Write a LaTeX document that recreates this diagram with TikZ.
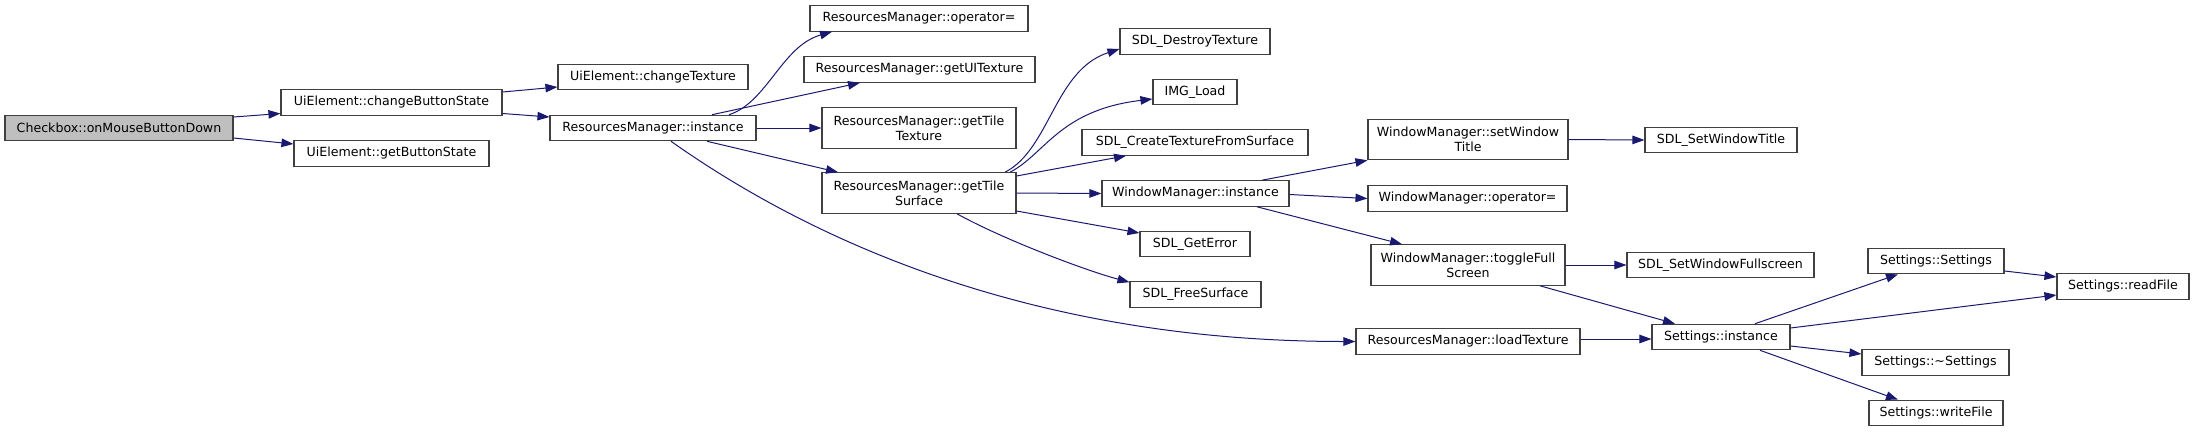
\documentclass[tikz,border=0pt]{standalone}
\usepackage{fontspec}
\setmainfont{DejaVu Sans}
\usetikzlibrary{arrows.meta}
\definecolor{edgecol}{HTML}{191970}
\definecolor{rootfill}{HTML}{BFBFBF}
\definecolor{boxline}{HTML}{404040}
\begin{document}
\begin{tikzpicture}[x=1pt,y=-1pt,
  box/.style={draw=boxline, line width=1.1pt, fill=white, inner sep=0pt, align=center,
    font=\fontsize{12.6}{14.7}\selectfont, minimum height=25.5pt},
  tall/.style={minimum height=40.5pt},
  rootbox/.style={fill=rootfill},
  call/.style={draw=edgecol, line width=1pt, -{Triangle[length=12pt,width=8.5pt]}, fill=none}
]
\useasboundingbox (0,0) rectangle (2195,432);
% rank 0
\node[box,rootbox,minimum width=228pt] (cb) at (119,128) {Checkbox::onMouseButtonDown};
% rank 1
\node[box,minimum width=221pt] (cbs) at (391.5,102.5) {UiElement::changeButtonState};
\node[box,minimum width=195pt] (gbs) at (391.5,153.5) {UiElement::getButtonState};
% rank 2
\node[box,minimum width=190pt] (ct) at (653,77) {UiElement::changeTexture};
\node[box,minimum width=206pt] (rmi) at (653,128) {ResourcesManager::instance};
% rank 3
\node[box,minimum width=218pt] (rmop) at (919,18.5) {ResourcesManager::operator=};
\node[box,minimum width=231pt] (rmui) at (919.5,69.5) {ResourcesManager::getUITexture};
\node[box,tall,minimum width=194pt] (rmtt) at (919,128) {ResourcesManager::getTile\\Texture};
\node[box,tall,minimum width=194pt] (rmts) at (919,193) {ResourcesManager::getTile\\Surface};
% rank 4
\node[box,minimum width=150pt] (sdt) at (1195,41.5) {SDL\_DestroyTexture};
\node[box,minimum width=84pt] (img) at (1195,92) {IMG\_Load};
\node[box,minimum width=226pt] (sctf) at (1195,142.5) {SDL\_CreateTextureFromSurface};
\node[box,minimum width=187pt] (wmi) at (1195.5,193.5) {WindowManager::instance};
\node[box,minimum width=110pt] (sge) at (1195,244) {SDL\_GetError};
\node[box,minimum width=131pt] (sfs) at (1195.5,294.5) {SDL\_FreeSurface};
% rank 5
\node[box,tall,minimum width=200pt] (wmst) at (1468,139.5) {WindowManager::setWindow\\Title};
\node[box,minimum width=199pt] (wmop) at (1467.5,198.5) {WindowManager::operator=};
\node[box,tall,minimum width=194pt] (wmtf) at (1468,265) {WindowManager::toggleFull\\Screen};
\node[box,minimum width=224pt] (rmlt) at (1468,341.5) {ResourcesManager::loadTexture};
% rank 6
\node[box,minimum width=152pt] (sswt) at (1721,140) {SDL\_SetWindowTitle};
\node[box,minimum width=187pt] (sswf) at (1720.5,265) {SDL\_SetWindowFullscreen};
\node[box,minimum width=138pt] (si) at (1721,337) {Settings::instance};
% rank 7
\node[box,minimum width=136pt] (ss) at (1936,261) {Settings::Settings};
\node[box,minimum width=147pt] (sds) at (1935.5,362.5) {Settings::\textasciitilde Settings};
\node[box,minimum width=134pt] (swf) at (1936,413) {Settings::writeFile};
% rank 8
\node[box,minimum width=132pt] (srf) at (2123,286.5) {Settings::readFile};

% edges
\draw[call] ([shift={(0,-11)}]cb.east) -- ([shift={(0,11)}]cbs.west);
\draw[call] ([shift={(0,10)}]cb.east) -- ([shift={(0,-9.5)}]gbs.west);
\draw[call] ([shift={(0,-10.5)}]cbs.east) -- ([shift={(0,10)}]ct.west);
\draw[call] ([shift={(0,11)}]cbs.east) -- ([shift={(0,-11)}]rmi.west);

\draw[call] ([xshift=76pt]rmi.north) .. controls +(38,-12) and +(-50,14) .. ([xshift=-87pt]rmop.south);
\draw[call] ([xshift=59pt]rmi.north) -- ([xshift=-59.5pt]rmui.south);
\draw[call] (rmi.east) -- (rmtt.west);
\draw[call] ([xshift=54pt]rmi.south) -- ([xshift=-81pt]rmts.north);
\draw[call] ([xshift=18pt]rmi.south) .. controls +(119,84) and +(-346,0) .. (rmlt.west);

\draw[call] ([xshift=86pt]rmts.north) .. controls +(45,-23) and +(-65,21) .. ([shift={(0,7.5)}]sdt.west);
\draw[call] ([xshift=91pt]rmts.north) .. controls +(35,-18) and +(-93,11) .. ([shift={(0,7)}]img.west);
\draw[call] ([shift={(0,-17)}]rmts.east) -- ([xshift=-69pt]sctf.south);
\draw[call] (rmts.east) -- (wmi.west);
\draw[call] ([shift={(0,18)}]rmts.east) -- ([shift={(0,-11)}]sge.west);
\draw[call] ([xshift=38pt]rmts.south) .. controls +(45,25) and +(-45,-12) .. ([shift={(0,1)}]sfs.north west);

\draw[call] ([xshift=66.5pt]wmi.north) -- (wmst.south west);
\draw[call] ([shift={(0,1)}]wmi.east) -- (wmop.west);
\draw[call] ([xshift=61.5pt]wmi.south) -- ([xshift=-66pt]wmtf.north);

\draw[call] (wmst.east) -- (sswt.west);
\draw[call] (wmtf.east) -- (sswf.west);
\draw[call] ([xshift=72pt]wmtf.south) -- ([xshift=-46pt]si.north);
\draw[call] ([shift={(0,-2.5)}]rmlt.east) -- ([shift={(0,2)}]si.west);

\draw[call] ([xshift=34pt]si.north) -- ([xshift=-38pt]ss.south);
\draw[call] ([shift={(0,-9)}]si.east) -- ([shift={(0,8.5)}]srf.west);
\draw[call] ([shift={(0,9)}]si.east) -- ([shift={(0,-8.5)}]sds.west);
\draw[call] ([xshift=39pt]si.south) -- ([xshift=-38pt]swf.north);
\draw[call] ([shift={(0,10)}]ss.east) -- ([shift={(0,-9.5)}]srf.west);
\end{tikzpicture}
\end{document}
